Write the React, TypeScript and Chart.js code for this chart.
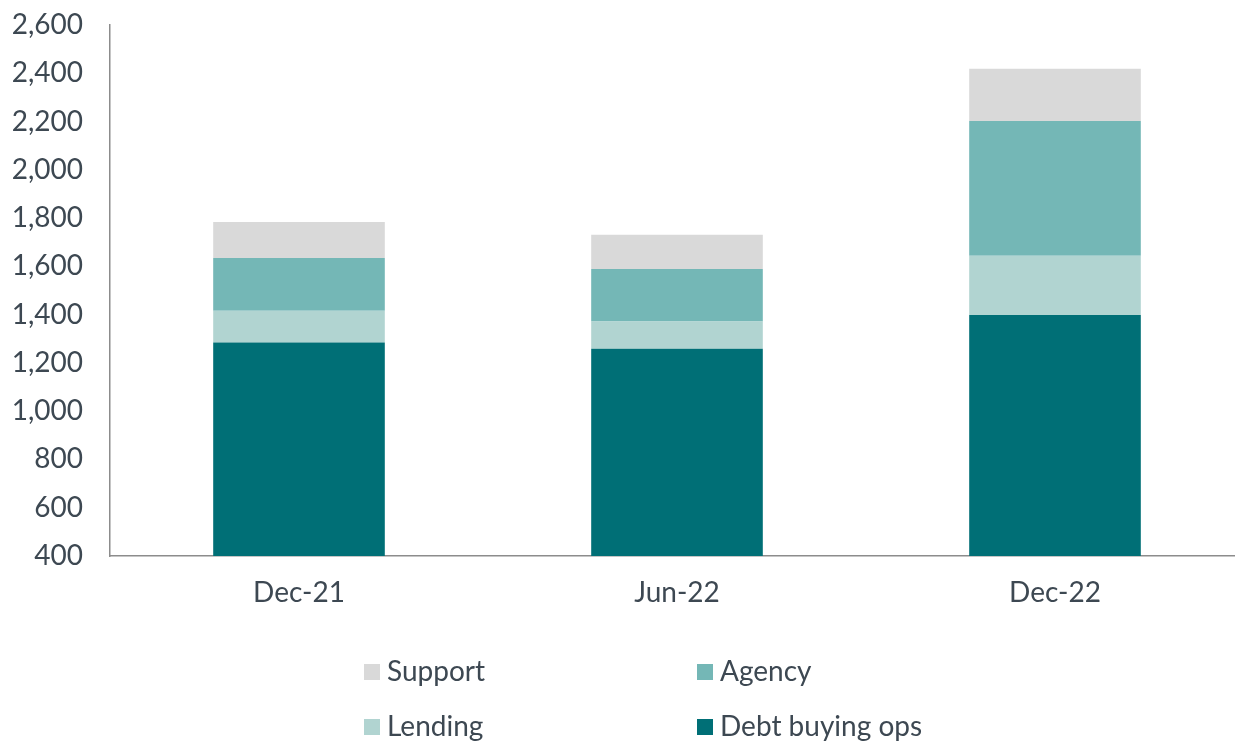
import React, { useEffect, useRef } from "react";
import { Chart, registerables } from "chart.js";

Chart.register(...registerables);

const categories = ["Dec-21", "Jun-22", "Dec-22"];
const debtBuyingOps = [1285, 1259, 1399];
const lending = [131, 113, 245];
const agency = [219, 217, 558];
const support = [149, 142, 217];
const yTicks = { min: 400, max: 2600, step: 200 };
const legendOrder = ["Support", "Agency", "Lending", "Debt buying ops"];

const FONT = "Lato, 'Open Sans', sans-serif";
const TEXT = "#3d4852";

const legendPlugin = {
  id: "gridLegend",
  afterDraw(chart: any) {
    const ctx = chart.ctx;
    const cols = [364, 697];
    const rows = [672, 727];
    ctx.save();
    ctx.font = `28px ${FONT}`;
    ctx.textBaseline = "middle";
    ctx.textAlign = "left";
    legendOrder.forEach((name, i) => {
      const ds = chart.data.datasets.find((d: any) => d.label === name);
      if (!ds) return;
      const x = cols[i % 2];
      const y = rows[Math.floor(i / 2)];
      ctx.fillStyle = ds.backgroundColor;
      ctx.fillRect(x, y - 8, 16, 16);
      ctx.fillStyle = TEXT;
      ctx.fillText(name, x + 23, y);
    });
    ctx.restore();
  },
};

export default function App() {
  const ref = useRef<HTMLCanvasElement | null>(null);
  useEffect(() => {
    if (!ref.current) return;
    const chart = new Chart(ref.current, {
      type: "bar",
      data: {
        labels: categories,
        datasets: [
          { label: "Debt buying ops", data: debtBuyingOps, backgroundColor: "#006f76" },
          { label: "Lending", data: lending, backgroundColor: "#b1d4d1" },
          { label: "Agency", data: agency, backgroundColor: "#74b7b6" },
          { label: "Support", data: support, backgroundColor: "#d9d9d9" },
        ],
      },
      options: {
        animation: false,
        responsive: true,
        maintainAspectRatio: false,
        datasets: { bar: { barPercentage: 0.454, categoryPercentage: 1, borderWidth: 0 } },
        layout: { padding: { top: 25, right: 0, left: 0, bottom: 0 } },
        plugins: { legend: { display: false }, tooltip: { enabled: false } },
        scales: {
          x: {
            stacked: true,
            grid: { display: false, drawTicks: false },
            border: { display: true, color: "#8c8c8c", width: 1.5 },
            ticks: { color: TEXT, font: { family: FONT, size: 28 }, padding: 20 },
            afterFit: (s: any) => { s.height = 185; },
          },
          y: {
            stacked: true,
            min: yTicks.min,
            max: yTicks.max,
            grid: { display: false, drawTicks: false },
            border: { display: true, color: "#8c8c8c", width: 1.5 },
            ticks: { stepSize: yTicks.step, color: TEXT, font: { family: FONT, size: 28 }, padding: 27 },
            afterFit: (s: any) => { s.width = 110; s.paddingTop = 0; s.paddingBottom = 0; },
          },
        },
      },
      plugins: [legendPlugin],
    });
    return () => chart.destroy();
  }, []);
  return (
    <div style={{ position: "absolute", left: 0, top: 0, width: 1235, height: 741, overflow: "hidden" }}>
      <div style={{ width: 1244, height: 741 }}>
        <canvas ref={ref} />
      </div>
    </div>
  );
}
